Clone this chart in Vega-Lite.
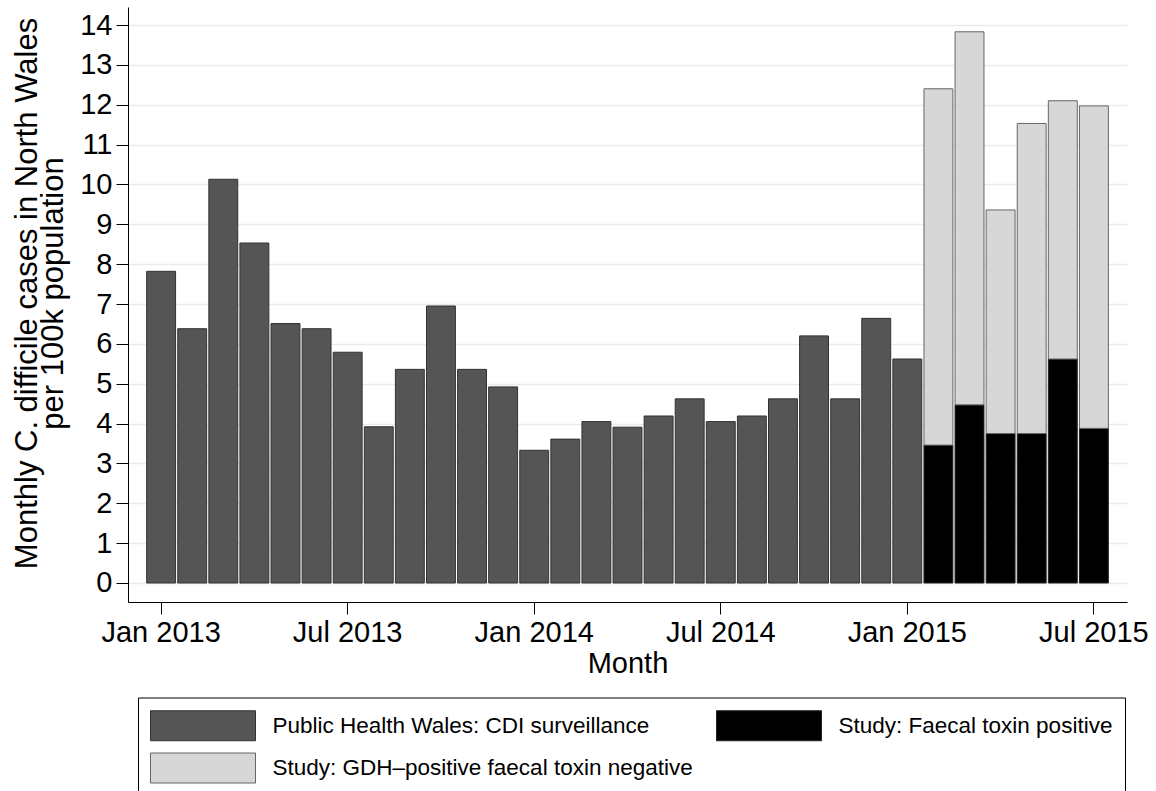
{
  "$schema": "https://vega.github.io/schema/vega-lite/v6.json",
  "width": 999,
  "height": 595,
  "autosize": {"type": "none"},
  "padding": {"left": 128, "top": 7, "right": 29, "bottom": 189},
  "background": "white",
  "data": {
    "values": [
      {"month": "Jan 2013", "series": "Public Health Wales: CDI surveillance", "rate": 7.82},
      {"month": "Feb 2013", "series": "Public Health Wales: CDI surveillance", "rate": 6.38},
      {"month": "Mar 2013", "series": "Public Health Wales: CDI surveillance", "rate": 10.13},
      {"month": "Apr 2013", "series": "Public Health Wales: CDI surveillance", "rate": 8.53},
      {"month": "May 2013", "series": "Public Health Wales: CDI surveillance", "rate": 6.51},
      {"month": "Jun 2013", "series": "Public Health Wales: CDI surveillance", "rate": 6.38},
      {"month": "Jul 2013", "series": "Public Health Wales: CDI surveillance", "rate": 5.79},
      {"month": "Aug 2013", "series": "Public Health Wales: CDI surveillance", "rate": 3.92},
      {"month": "Sep 2013", "series": "Public Health Wales: CDI surveillance", "rate": 5.36},
      {"month": "Oct 2013", "series": "Public Health Wales: CDI surveillance", "rate": 6.95},
      {"month": "Nov 2013", "series": "Public Health Wales: CDI surveillance", "rate": 5.36},
      {"month": "Dec 2013", "series": "Public Health Wales: CDI surveillance", "rate": 4.92},
      {"month": "Jan 2014", "series": "Public Health Wales: CDI surveillance", "rate": 3.33},
      {"month": "Feb 2014", "series": "Public Health Wales: CDI surveillance", "rate": 3.61},
      {"month": "Mar 2014", "series": "Public Health Wales: CDI surveillance", "rate": 4.05},
      {"month": "Apr 2014", "series": "Public Health Wales: CDI surveillance", "rate": 3.91},
      {"month": "May 2014", "series": "Public Health Wales: CDI surveillance", "rate": 4.19},
      {"month": "Jun 2014", "series": "Public Health Wales: CDI surveillance", "rate": 4.62},
      {"month": "Jul 2014", "series": "Public Health Wales: CDI surveillance", "rate": 4.05},
      {"month": "Aug 2014", "series": "Public Health Wales: CDI surveillance", "rate": 4.19},
      {"month": "Sep 2014", "series": "Public Health Wales: CDI surveillance", "rate": 4.62},
      {"month": "Oct 2014", "series": "Public Health Wales: CDI surveillance", "rate": 6.2},
      {"month": "Nov 2014", "series": "Public Health Wales: CDI surveillance", "rate": 4.62},
      {"month": "Dec 2014", "series": "Public Health Wales: CDI surveillance", "rate": 6.64},
      {"month": "Jan 2015", "series": "Public Health Wales: CDI surveillance", "rate": 5.62},
      {"month": "Feb 2015", "series": "Study: Faecal toxin positive", "rate": 3.46},
      {"month": "Feb 2015", "series": "Study: GDH–positive faecal toxin negative", "rate": 8.94},
      {"month": "Mar 2015", "series": "Study: Faecal toxin positive", "rate": 4.47},
      {"month": "Mar 2015", "series": "Study: GDH–positive faecal toxin negative", "rate": 9.36},
      {"month": "Apr 2015", "series": "Study: Faecal toxin positive", "rate": 3.75},
      {"month": "Apr 2015", "series": "Study: GDH–positive faecal toxin negative", "rate": 5.61},
      {"month": "May 2015", "series": "Study: Faecal toxin positive", "rate": 3.75},
      {"month": "May 2015", "series": "Study: GDH–positive faecal toxin negative", "rate": 7.78},
      {"month": "Jun 2015", "series": "Study: Faecal toxin positive", "rate": 5.62},
      {"month": "Jun 2015", "series": "Study: GDH–positive faecal toxin negative", "rate": 6.48},
      {"month": "Jul 2015", "series": "Study: Faecal toxin positive", "rate": 3.88},
      {"month": "Jul 2015", "series": "Study: GDH–positive faecal toxin negative", "rate": 8.09}
    ]
  },
  "mark": {"type": "bar", "strokeWidth": 1},
  "encoding": {
    "x": {
      "field": "month",
      "type": "ordinal",
      "sort": null,
      "scale": {"paddingInner": 0.07, "paddingOuter": 0.6},
      "axis": {
        "values": ["Jan 2013", "Jul 2013", "Jan 2014", "Jul 2014", "Jan 2015", "Jul 2015"],
        "labelAngle": 0,
        "tickSize": 12,
        "labelPadding": 4,
        "bandPosition": 0.5,
        "grid": false,
        "title": "Month",
        "titleX": 499.5,
        "titleY": 70,
        "titleBaseline": "alphabetic",
        "titleAlign": "center"
      }
    },
    "y": {
      "field": "rate",
      "type": "quantitative",
      "stack": "zero",
      "scale": {"domain": [-0.477, 14.452], "nice": false, "zero": false},
      "axis": {
        "values": [0, 1, 2, 3, 4, 5, 6, 7, 8, 9, 10, 11, 12, 13, 14],
        "tickSize": 12,
        "labelPadding": 4,
        "grid": true,
        "gridColor": "#eaeaea",
        "gridWidth": 1.5,
        "title": ["Monthly C. difficile cases in North Wales", "per 100k population"],
        "titleFontSize": 31,
        "titleLineHeight": 26,
        "titleAngle": -90,
        "titleX": -92,
        "titleY": 286,
        "titleAlign": "center",
        "titleBaseline": "alphabetic"
      }
    },
    "color": {
      "field": "series",
      "type": "nominal",
      "scale": {
        "domain": ["Public Health Wales: CDI surveillance", "Study: Faecal toxin positive", "Study: GDH–positive faecal toxin negative"],
        "range": ["#555555", "#000000", "#d7d7d7"]
      },
      "legend": {"title": null}
    },
    "stroke": {
      "field": "series",
      "type": "nominal",
      "scale": {
        "domain": ["Public Health Wales: CDI surveillance", "Study: Faecal toxin positive", "Study: GDH–positive faecal toxin negative"],
        "range": ["#333333", "#222222", "#666666"]
      },
      "legend": {"title": null}
    },
    "order": {"field": "series", "sort": "ascending"}
  },
  "config": {
    "view": {"stroke": null},
    "font": "Liberation Sans",
    "axis": {
      "labelFont": "Liberation Sans",
      "labelFontSize": 29,
      "labelColor": "black",
      "titleFont": "Liberation Sans",
      "titleFontSize": 29,
      "titleFontWeight": "normal",
      "titleColor": "black",
      "domainColor": "black",
      "domainWidth": 1,
      "tickColor": "black",
      "tickWidth": 1,
      "labelFlush": false,
      "labelOverlap": false
    },
    "legend": {
      "orient": "none",
      "direction": "horizontal",
      "legendX": 10,
      "legendY": 690.5,
      "columns": 2,
      "padding": 12.5,
      "strokeColor": "black",
      "fillColor": "white",
      "symbolType": "M-1.033,-1L5.967,-1L5.967,1L-1.033,1Z",
      "symbolSize": 900,
      "symbolStrokeWidth": 1,
      "symbolOpacity": 1,
      "labelOffset": 91,
      "labelFont": "Liberation Sans",
      "labelFontSize": 22.5,
      "labelColor": "black",
      "labelLimit": 0,
      "rowPadding": 7.5,
      "columnPadding": 21
    }
  }
}
